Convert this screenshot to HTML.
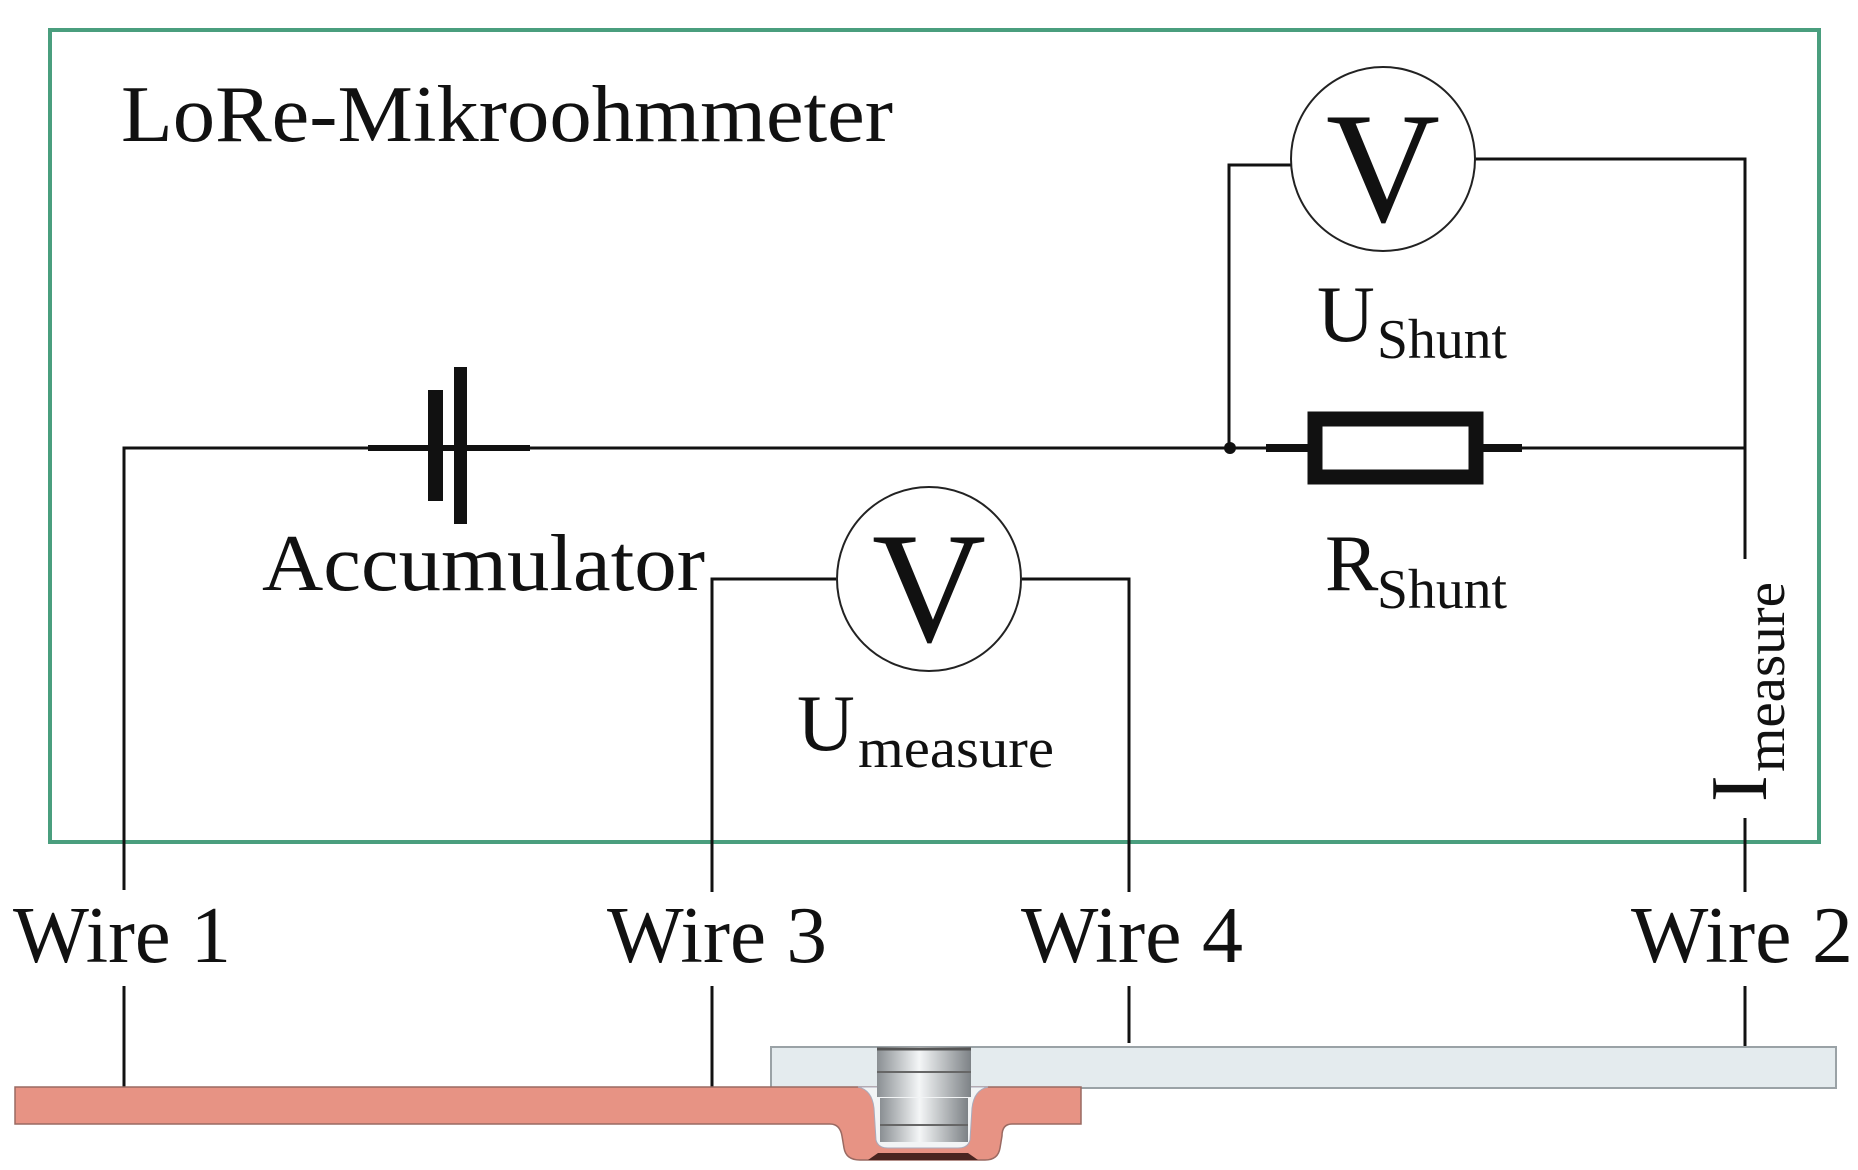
<!DOCTYPE html>
<html><head><meta charset="utf-8"><style>
html,body{margin:0;padding:0;background:#fff;}
svg{display:block;}
text{font-family:"Liberation Serif",serif;fill:#111;}
</style></head><body>
<svg width="1858" height="1170" viewBox="0 0 1858 1170" xmlns="http://www.w3.org/2000/svg">
<defs>
<linearGradient id="cyl" x1="0" x2="1" y1="0" y2="0">
<stop offset="0" stop-color="#8a8f93"/><stop offset="0.45" stop-color="#f4f6f7"/><stop offset="1" stop-color="#7d8286"/>
</linearGradient>
</defs>
<!-- green frame -->
<rect x="50" y="30" width="1769" height="812" fill="none" stroke="#4a9e7e" stroke-width="4"/>
<text x="121" y="141" font-size="80" textLength="772" lengthAdjust="spacingAndGlyphs">LoRe-Mikroohmmeter</text>

<g stroke="#111" stroke-width="3" fill="none">
<!-- main wire -->
<line x1="124" y1="448" x2="1745" y2="448"/>
<line x1="124" y1="446.5" x2="124" y2="890"/>
<!-- battery stubs -->
<line x1="368" y1="448" x2="530" y2="448" stroke-width="6"/>
<!-- shunt voltmeter loop -->
<polyline points="1229,448 1229,165 1292,165"/>
<polyline points="1474,159 1745,159 1745,559"/>
<line x1="1745" y1="818" x2="1745" y2="892"/>
<!-- resistor stubs -->
<line x1="1266" y1="448" x2="1522" y2="448" stroke-width="8"/>
<!-- measure loop -->
<polyline points="712,892 712,579 836,579"/>
<polyline points="1022,579 1129,579 1129,892"/>
<!-- lower lines -->
<line x1="124" y1="986" x2="124" y2="1110"/>
<line x1="712" y1="986" x2="712" y2="1088"/>
<line x1="1129" y1="986" x2="1129" y2="1043"/>
<line x1="1745" y1="986" x2="1745" y2="1065"/>
</g>
<!-- battery plates -->
<rect x="428" y="390" width="15" height="111" fill="#111"/>
<rect x="454" y="367" width="13" height="157" fill="#111"/>
<text x="262" y="590" font-size="80" textLength="443" lengthAdjust="spacingAndGlyphs">Accumulator</text>

<!-- junction -->
<circle cx="1230" cy="448" r="6" fill="#111"/>
<!-- resistor -->
<rect x="1315" y="419" width="161" height="58" fill="#fff" stroke="#111" stroke-width="15"/>

<!-- voltmeters -->
<circle cx="1383" cy="159" r="92" fill="#fff" stroke="#222" stroke-width="2"/>
<text x="1383" y="221" font-size="158" text-anchor="middle">V</text>
<circle cx="929" cy="579" r="92" fill="#fff" stroke="#222" stroke-width="2"/>
<text x="929" y="641" font-size="158" text-anchor="middle">V</text>

<text x="1317" y="341" font-size="80">U</text>
<text x="1377" y="358" font-size="56" textLength="130" lengthAdjust="spacingAndGlyphs">Shunt</text>
<text x="1325" y="590" font-size="80">R</text>
<text x="1377" y="608" font-size="56" textLength="130" lengthAdjust="spacingAndGlyphs">Shunt</text>
<text x="797" y="750" font-size="80">U</text>
<text x="858" y="767" font-size="56" textLength="196" lengthAdjust="spacingAndGlyphs">measure</text>

<!-- I measure rotated -->
<g transform="translate(1766,802) rotate(-90)">
<text x="0" y="0" font-size="80">I</text>
<text x="30" y="18" font-size="56" textLength="190" lengthAdjust="spacingAndGlyphs">measure</text>
</g>

<!-- wire labels -->
<text x="13" y="962" font-size="80" textLength="218" lengthAdjust="spacingAndGlyphs">Wire 1</text>
<text x="607" y="962" font-size="80" textLength="220" lengthAdjust="spacingAndGlyphs">Wire 3</text>
<text x="1021" y="962" font-size="80" textLength="222" lengthAdjust="spacingAndGlyphs">Wire 4</text>
<text x="1631" y="962" font-size="80" textLength="222" lengthAdjust="spacingAndGlyphs">Wire 2</text>

<!-- gray plate -->
<rect x="771" y="1047" width="1065" height="41" fill="#e4ebee" stroke="#9aa2a6" stroke-width="2"/>
<!-- red plate with dip -->
<path d="M15,1087 L1081,1087 L1081,1124 L1012,1124 Q1002,1124 1002,1136 L1000,1148 Q998,1160 985,1160 L860,1160 Q846,1160 844,1148 L842,1136 Q840,1124 830,1124 L15,1124 Z" fill="#e79384" stroke="#9a6a62" stroke-width="1.5"/>
<path d="M868,1160 L878,1153 L968,1153 L978,1160 Z" fill="#4a2520"/>
<!-- rivet cavity -->
<path d="M858,1087 Q872,1090 874,1108 L876,1140 Q878,1148 888,1148 L958,1148 Q968,1148 970,1140 L972,1108 Q974,1090 988,1087 Z" fill="#f2f4f5" stroke="#aab" stroke-width="1"/>
<rect x="877" y="1047" width="94" height="50" fill="url(#cyl)"/>
<rect x="880" y="1098" width="88" height="44" fill="url(#cyl)"/>
<line x1="877" y1="1072" x2="971" y2="1072" stroke="#666" stroke-width="2"/>
<line x1="880" y1="1125" x2="968" y2="1125" stroke="#666" stroke-width="2"/>
<line x1="877" y1="1049" x2="971" y2="1049" stroke="#555" stroke-width="3"/>
</svg>
</body></html>
